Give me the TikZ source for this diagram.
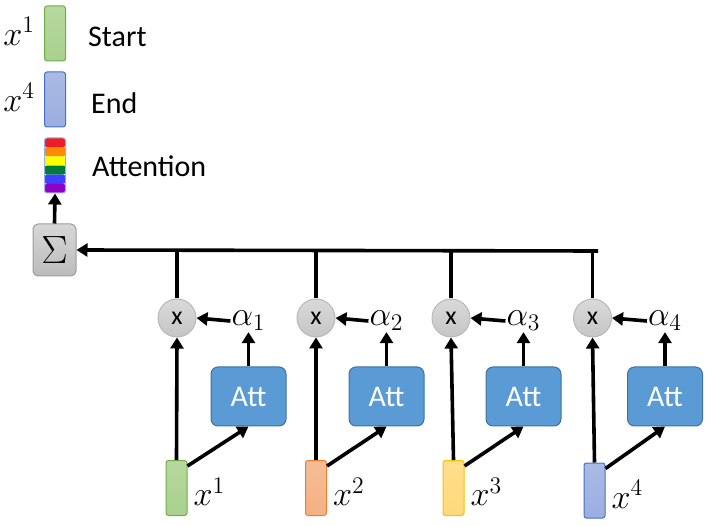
\documentclass[tikz,border=0pt]{standalone}
\usepackage{amsmath}
\usepackage{fontspec}
\setmainfont{Carlito}
\usetikzlibrary{arrows.meta}

\newcommand{\mlab}[2][1.65]{\scalebox{#1}{$#2$}}

\definecolor{greenfill}{HTML}{A9D18E}
\definecolor{greenline}{HTML}{70AD47}
\definecolor{orangefill}{HTML}{F4B183}
\definecolor{orangeline}{HTML}{ED7D31}
\definecolor{yellowfill}{HTML}{FFD97A}
\definecolor{yellowline}{HTML}{FFC000}
\definecolor{bluefill}{HTML}{9BAEE0}
\definecolor{blueline}{HTML}{4472C4}
\definecolor{attblue}{HTML}{5B9BD5}
\definecolor{attline}{HTML}{41719C}
\definecolor{mulgray}{HTML}{D0D0D0}
\definecolor{mulline}{HTML}{B8B8B8}
\definecolor{rbred}{HTML}{EE1C24}
\definecolor{rborange}{HTML}{FF8A00}
\definecolor{rbyellow}{HTML}{FFFF00}
\definecolor{rbgreen}{HTML}{007A3D}
\definecolor{rbblue}{HTML}{3F3FFF}
\definecolor{rbpurple}{HTML}{9000C8}

\tikzset{
  barshape/.style={rounded corners=2.5pt, line width=1pt, minimum width=21pt,
    minimum height=55pt, inner sep=0pt},
  bar/.style={barshape, draw=#1line, top color=#1fill!85!white, bottom color=#1fill},
  attbox/.style={draw=attline, fill=attblue, rounded corners=7pt, line width=1pt,
    minimum width=75pt, minimum height=59pt, text=white,
    font=\fontsize{30}{32}\selectfont},
  mul/.style={circle, draw=mulline, top color=mulgray!80!white, bottom color=mulgray!95!black,
    minimum size=38pt, inner sep=0pt, line width=1pt, font=\fontsize{26}{28}\selectfont},
  sumbox/.style={draw=mulline!85!black, top color=mulgray!85!white, bottom color=mulgray!90!black,
    rounded corners=5pt, line width=1pt, minimum width=43pt, minimum height=52pt,
    inner sep=0pt, font=\fontsize{20.74}{22}\selectfont},
  label/.style={font=\fontsize{30}{32}\selectfont, anchor=west, inner sep=0pt},
  mlabel/.style={font=\fontsize{20.74}{22}\selectfont, inner sep=1pt},
  conn/.style={line width=3.6pt, -{Triangle[length=11pt,width=13pt]}},
  plain/.style={line width=3.6pt},
}

\begin{document}
\begin{tikzpicture}[x=1pt,y=-1pt]
  \useasboundingbox (0,0) rectangle (715,526);

  % legend
  \node[bar=green] (startbar) at (55,33.5) {};
  \node[mlabel, anchor=east] (startx) at ([xshift=-8pt,yshift=2pt]startbar.west) {\mlab{x^1}};
  \node[label] (starttxt) at (88,37) {Start};
  \node[bar=blue] (endbar) at (55,99.5) {};
  \node[mlabel, anchor=east] (endx) at ([xshift=-8pt,yshift=2pt]endbar.west) {\mlab{x^4}};
  \node[label] (endtxt) at (91,103) {End};
  \node[barshape, draw=bluefill, path picture={
      \foreach \c [count=\i from 0] in {rbred,rborange,rbyellow,rbgreen,rbblue,rbpurple}
        \fill[\c] ([yshift=-\i*9.17pt]path picture bounding box.north west)
          rectangle ([yshift=-\i*9.17pt-9.17pt]path picture bounding box.north east);
    }] (attbar) at (55,165.5) {};
  \node[label] (atttxt) at (92,166) {Attention};

  % sum
  \node[sumbox] (sum) at (54.5,250) {\mlab[1.9]{\Sigma}};
  \draw[conn] (sum.north) -- (attbar.south);
  \coordinate (hend) at (598,251);
  \draw[conn] (hend) -- (sum.east);

  % columns
  \foreach \i/\mx/\ax/\bx/\by/\col in {1/177/248.5/176.5/488/green,
      2/316/386.5/316/488/orange, 3/451/523.5/453.5/488/yellow,
      4/592.5/665/594.5/490.5/blue} {
    \node[mul] (m\i) at (\mx,318) {x};
    \node[attbox] (a\i) at (\ax,396.5) {Att};
    \node[mlabel] (al\i) at (\ax,321) {\mlab{\alpha_{\i}}};
    \node[bar=\col] (b\i) at (\bx,\by) {};
    \node[mlabel, anchor=west] (x\i) at ([xshift=5pt,yshift=-4pt]b\i.east) {\mlab{x^{\i}}};
    \draw[plain] (m\i.north) -- (m\i.north |- hend);
    \draw[conn] (al\i.west) -- (m\i.east);
    \draw[conn] (a\i.north) -- (a\i.north |- al\i.south);
    \draw[conn] (b\i.north) -- (m\i.south);
    \draw[conn] ([yshift=-6pt]b\i.north east) -- (a\i.south);
  }
\end{tikzpicture}
\end{document}
